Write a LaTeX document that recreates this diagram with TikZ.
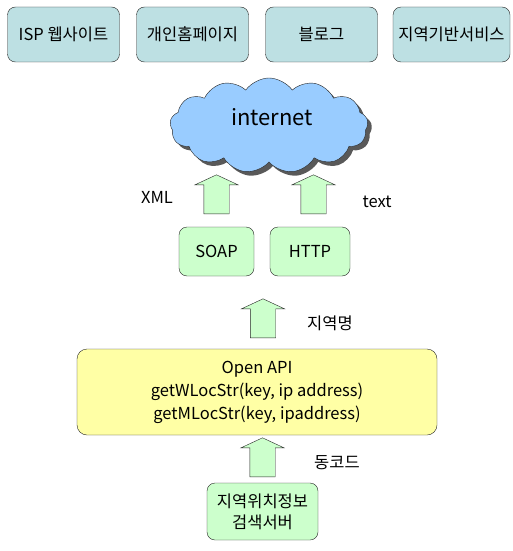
\documentclass[tikz,border=0pt]{standalone}
\usepackage{fontspec}
\setmainfont{Noto Sans CJK KR}
\usepackage{tikz}
\usetikzlibrary{shapes.symbols,shapes.arrows,shadows}
\definecolor{svcblue}{RGB}{189,224,227}
\definecolor{protogreen}{RGB}{204,255,204}
\definecolor{apiyellow}{RGB}{255,255,165}
\definecolor{netblue}{RGB}{153,204,255}
\tikzstyle{svc} = [ rectangle, rounded corners = 8pt, minimum width = 112pt, %
                    minimum height = 55pt, inner sep = 0pt, text centered, %
                    draw = black!85, fill = svcblue ]
\tikzstyle{proto} = [ rectangle, rounded corners = 8pt, minimum height = 49pt, %
                      text centered, draw = black!85, fill = protogreen ]
\tikzstyle{api} = [ rectangle, rounded corners = 10pt, minimum width = 360pt, %
                    minimum height = 86pt, align = center, draw = black!85, %
                    fill = apiyellow ]
\tikzstyle{upblk} = [ single arrow, rotate = 90, anchor = tail, draw = black!85, %
                      fill = protogreen, inner xsep = 0pt, inner ysep = 12.5pt, %
                      minimum height = 39pt, single arrow head extend = 9pt, %
                      single arrow tip angle = 130, single arrow head indent = 0pt ]
\tikzstyle{lbl} = [inner sep = 0pt]

\begin{document}
\begin{tikzpicture}[x = 1pt, y = -1pt, node distance = 129pt,
    every node/.style = {font = \fontsize{16.5}{23}\selectfont}]
      \useasboundingbox (0,0) rectangle (512,551);
      % Services
      \node (isp) [svc] at (63.5,34.5) {ISP 웹사이트};
      \node (home) [svc,right of=isp] {개인홈페이지};
      \node (blog) [svc,right of=home] {블로그};
      \node (local) [svc,right of=blog,xshift=1pt,minimum width=117pt] {지역기반서비스};
      % Internet
      \node (net) [cloud, cloud puffs = 13, cloud puff arc = 110, aspect = 2.1, %
                   minimum width = 198pt, minimum height = 95pt, inner sep = 0pt, %
                   draw = black!85, fill = netblue, %
                   drop shadow = {shadow xshift = 4pt, shadow yshift = -4pt, %
                   fill = black!65, opacity = 1}] at (269,125.5) {};
      \node (nettext) [lbl, font = \fontsize{22}{24}\selectfont] at (272,117) {internet};
      % Protocols
      \node (soap) [proto, minimum width = 75pt] at (216.5,251.5) {SOAP};
      \node (http) [proto, minimum width = 80pt] at (310,251.5) {HTTP};
      % Open API
      \node (api) [api] at (257,392) {Open API\\getWLocStr(key, ip address)\\getMLocStr(key, ipaddress)};
      % Server
      \node (server) [proto, minimum width = 111pt, minimum height = 57pt, %
                      inner sep = 0pt, align = center, %
                      font = \fontsize{16.5}{21}\selectfont] %
                      at (262.5,511.5) {지역위치정보\\검색서버};
      % Arrows
      \node (up1) [upblk] at (soap.north |- 0,214) {};
      \node (up2) [upblk] at ([xshift=3.5pt]http.north |- 0,214) {};
      \node (up3) [upblk] at (263,338) {};
      \node (up4) [upblk] at (server.north |- 0,477) {};
      % Labels
      \node (xml) [lbl] at (157,197) {XML};
      \node (txt) [lbl] at (377,202) {text};
      \node (region) [lbl] at (330,323) {지역명};
      \node (dong) [lbl] at (337,463) {동코드};
\end{tikzpicture}
\end{document}
